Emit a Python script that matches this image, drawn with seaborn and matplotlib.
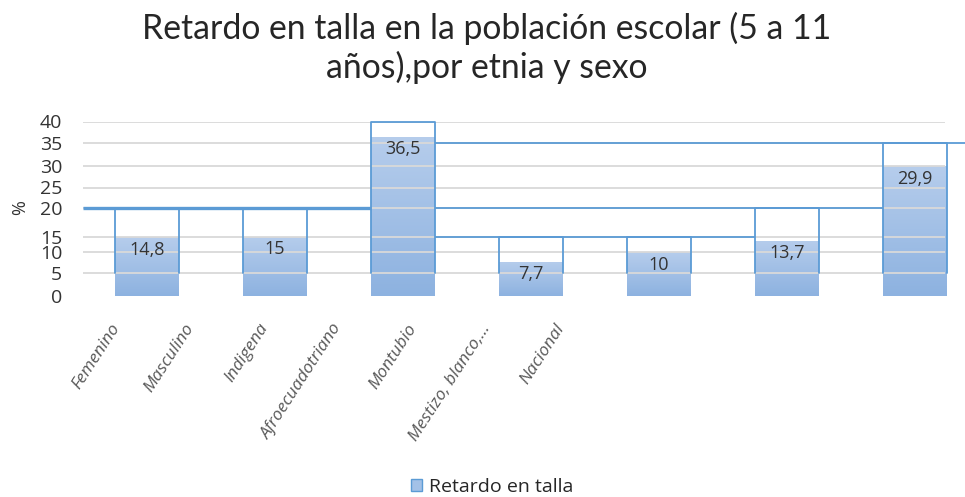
import numpy as np
import pandas as pd
import matplotlib
matplotlib.use("Agg")
import matplotlib.pyplot as plt
import seaborn as sns
from matplotlib.patches import Patch
from matplotlib.colors import LinearSegmentedColormap

# ---------------- data ----------------
categories = ["Femenino", "Masculino", "Indigena", "Afroecuadotriano",
              "Montubio", "Mestizo, blanco,...", "Nacional"]
values = [14.8, 15, 36.5, 7.7, 10, 13.7, 29.9]
value_labels = ["14,8", "15", "36,5", "7,7", "10", "13,7", "29,9"]
# ghost outline boxes drawn in the reference (top values, from 5 upwards)
outline_tops = [20, 20, 40, 15, 15, 20, 35]
outline_base = 5
# ghost connector lines: level, from category (right edge), to category (left edge)
conn_levels = [20, 35, 20, 15]
conn_from = [None, "Indigena", "Indigena", "Indigena"]
conn_to = ["Indigena", None, "Nacional", "Mestizo, blanco,..."]
y_ticks = [0, 5, 10, 15, 20, 25, 30, 35, 40]
series_name = "Retardo en talla"
title = "Retardo en talla en la población escolar (5 a 11\naños),por etnia y sexo"

# ---------------- style ----------------
sns.set_style("white")
plt.rcParams["font.family"] = ["Open Sans", "DejaVu Sans"]

W, H = 965, 497
fig = plt.figure(figsize=(W / 100, H / 100), dpi=100)
ax_left, ax_right, ax_bottom, ax_top = 83, 945, 296, 121.5
ax = fig.add_axes([ax_left / W, 1 - ax_bottom / H,
                   (ax_right - ax_left) / W, (ax_bottom - ax_top) / H])

bar_w = 0.5
df = pd.DataFrame({"cat": categories, "val": values})
sns.barplot(data=df, x="cat", y="val", order=categories, ax=ax,
            color="#9dbde5", saturation=1, width=bar_w, edgecolor="none",
            zorder=1)
bars = list(ax.patches)

# distorted (non-uniform) value axis as in the reference rendering
tick_px = np.array([0, 23, 44, 59.5, 88, 108.5, 130, 153, 174.5])
def fwd(v):
    return np.interp(v, y_ticks, tick_px)
def inv(u):
    return np.interp(u, tick_px, y_ticks)
ax.set_yscale("function", functions=(fwd, inv))

n = len(categories)
xmax = -0.5 + (ax_right - ax_left) / 128.0
ax.set_xlim(-0.5, xmax)
ax.set_ylim(0, 40)
ax.set_yticks(y_ticks)
ax.set_yticklabels([str(t) for t in y_ticks])
ax.tick_params(axis="y", length=0, pad=15, labelsize=14, labelcolor="#333333")
ax.set_xticks([])
ax.set_xlabel("")
ax.set_ylabel("%", fontsize=13, color="#333333")
ax.yaxis.set_label_coords(-0.063, 0.504)
for s in ax.spines.values():
    s.set_visible(False)
ax.yaxis.grid(True, color="#d9d9d9", lw=1.3)
ax.set_axisbelow(False)
ax.yaxis.get_gridlines()[0].set_visible(False)

# gradient fill per bar
cmap = LinearSegmentedColormap.from_list("g", ["#b6cdec", "#8db2e0"])
grad = np.linspace(0, 1, 256).reshape(-1, 1)
inv_ax = ax.transAxes.inverted()
for p in bars:
    bb = p.get_window_extent().transformed(inv_ax)
    im = ax.imshow(grad, cmap=cmap, extent=(bb.x0, bb.x1, bb.y0, bb.y1),
                   transform=ax.transAxes, aspect="auto", zorder=1.5,
                   interpolation="bilinear")
    im.set_clip_path(p)
ax.set_xlim(-0.5, xmax)
ax.set_ylim(0, 40)

# ghost outline boxes
line_c = "#5b9bd5"
for i, t in enumerate(outline_tops):
    ax.plot([i - bar_w / 2, i - bar_w / 2, i + bar_w / 2, i + bar_w / 2],
            [outline_base, t, t, outline_base], color=line_c, lw=1.3,
            zorder=3, clip_on=False)

# ghost connector lines
for lvl, a, b in zip(conn_levels, conn_from, conn_to):
    x0 = -0.5 if a is None else categories.index(a) + bar_w / 2
    x1 = -0.5 + (W - ax_left) / 128.0 if b is None else categories.index(b) - bar_w / 2
    ax.plot([x0, x1], [lvl, lvl], color=line_c,
            lw=2.4 if a is None else 1.3, zorder=3, clip_on=False,
            solid_capstyle="butt")

# value labels
for i, (v, lab) in enumerate(zip(values, value_labels)):
    ax.annotate(lab, (i, v), xytext=(0, -9), textcoords="offset points",
                ha="center", va="center", fontsize=13, color="#333333",
                zorder=4)

# category labels (squeezed, as in the reference)
ax2 = ax.twiny()
a0 = -(117 - ax_left) / 74.0
ax2.set_xlim(a0, a0 + (ax_right - ax_left) / 74.0)
ax2.set_xticks(range(n))
ax2.set_xticklabels(categories, rotation=57, ha="right", va="center",
                    rotation_mode="anchor", fontsize=12.5, style="italic",
                    color="#595959")
ax2.xaxis.set_ticks_position("bottom")
ax2.xaxis.set_label_position("bottom")
ax2.tick_params(axis="x", length=0, pad=21)
for s in ax2.spines.values():
    s.set_visible(False)

# title
fig.text(0.504, 1 - 12 / H, title, ha="center", va="top", fontsize=24.3,
         linespacing=1.22, color="#262626",
         family=["Lato", "Open Sans", "DejaVu Sans"])

# legend
fig.legend(handles=[Patch(facecolor="#a3c1e7", edgecolor=line_c,
                          label=series_name)],
           loc="center", bbox_to_anchor=(0.510, 1 - 487 / H), frameon=False,
           fontsize=14, handlelength=0.6, handleheight=0.6,
           handletextpad=0.35, labelcolor="#262626")

fig.savefig("out.png", dpi=100)
